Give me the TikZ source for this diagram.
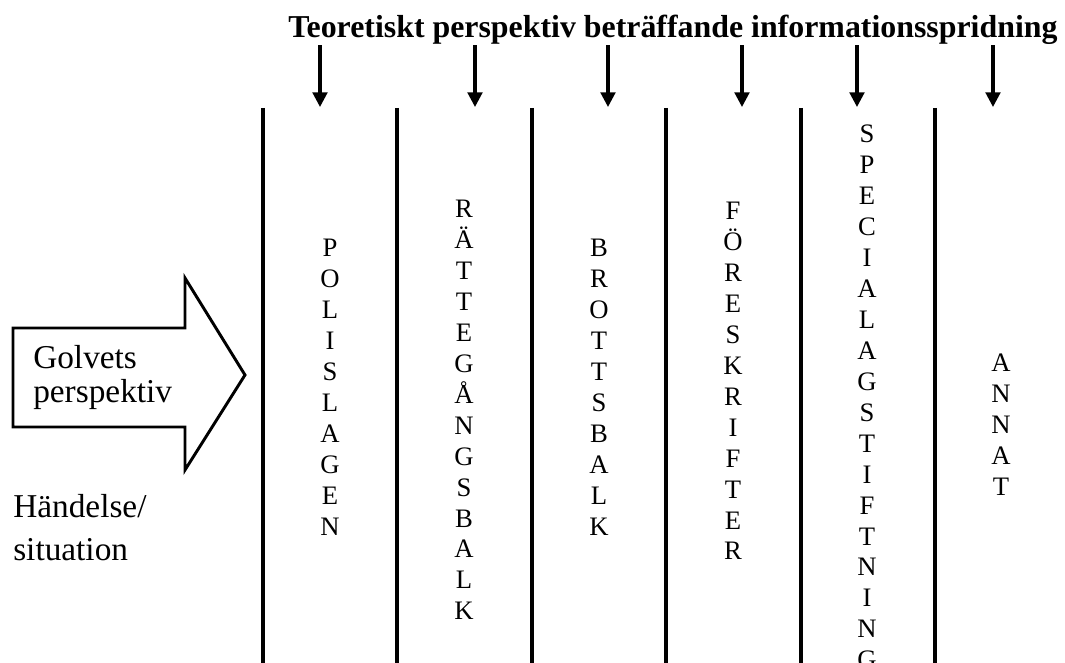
\documentclass[tikz,border=0pt]{standalone}
\usepackage{fontspec}
\setmainfont{Liberation Serif}
\usetikzlibrary{arrows.meta}
\tikzset{
  colline/.style={line width=2.3pt},
  downarrow/.style={line width=2.3pt,-{Triangle[length=11pt,width=11pt]}},
  colword/.style={align=center,anchor=north,inner sep=0pt,font=\fontsize{20}{23.2}\selectfont},
  sidetext/.style={align=left,anchor=north west,inner sep=0pt,font=\fontsize{25}{25.5}\selectfont},
}
\begin{document}
\begin{tikzpicture}[x=0.75pt,y=0.75pt,yscale=-1,xscale=1]
\useasboundingbox (0,0) rectangle (1065,663);

% title
\node[anchor=base west,inner sep=0pt,font=\fontsize{23.9}{28}\selectfont\bfseries] (ttl) at (288,38)
  {Teoretiskt perspektiv beträffande informationsspridning};

% arrow ends
\coordinate (a1) at (320,107);
\coordinate (a2) at (475,107);
\coordinate (a3) at (608,107);
\coordinate (a4) at (742,107);
\coordinate (a5) at (857,107);
\coordinate (a6) at (993,107);
\foreach \i in {1,...,6}
  \draw[downarrow] (ttl.south -| a\i) -- (a\i);

% column lines
\foreach \x in {263,397,532,666,801,935}
  \draw[colline] (\x,108) -- (\x,663);

% column labels
\node[colword] (polis) at (330,239) {P\\O\\L\\I\\S\\L\\A\\G\\E\\N};
\node[colword] (ratt) at (464,200) {R\\Ä\\T\\T\\E\\G\\Å\\N\\G\\S\\B\\A\\L\\K};
\node[colword] (brott) at (599,239) {B\\R\\O\\T\\T\\S\\B\\A\\L\\K};
\node[colword] (fore) at (733,202) {F\\Ö\\R\\E\\S\\K\\R\\I\\F\\T\\E\\R};
\node[colword] (spec) at (867,125) {S\\P\\E\\C\\I\\A\\L\\A\\G\\S\\T\\I\\F\\T\\N\\I\\N\\G};
\node[colword] (annat) at (1001,354) {A\\N\\N\\A\\T};

% block arrow
\draw[line width=2.2pt] (13,328) -- (185,328) -- (185,278) -- (245,375) -- (185,470) -- (185,427) -- (13,427) -- cycle;
\node[sidetext] (golv) at (33,345) {Golvets\\perspektiv};
\node[sidetext,font=\fontsize{25}{32}\selectfont] (hand) at (13,494) {Händelse/\\situation};
\end{tikzpicture}
\end{document}
